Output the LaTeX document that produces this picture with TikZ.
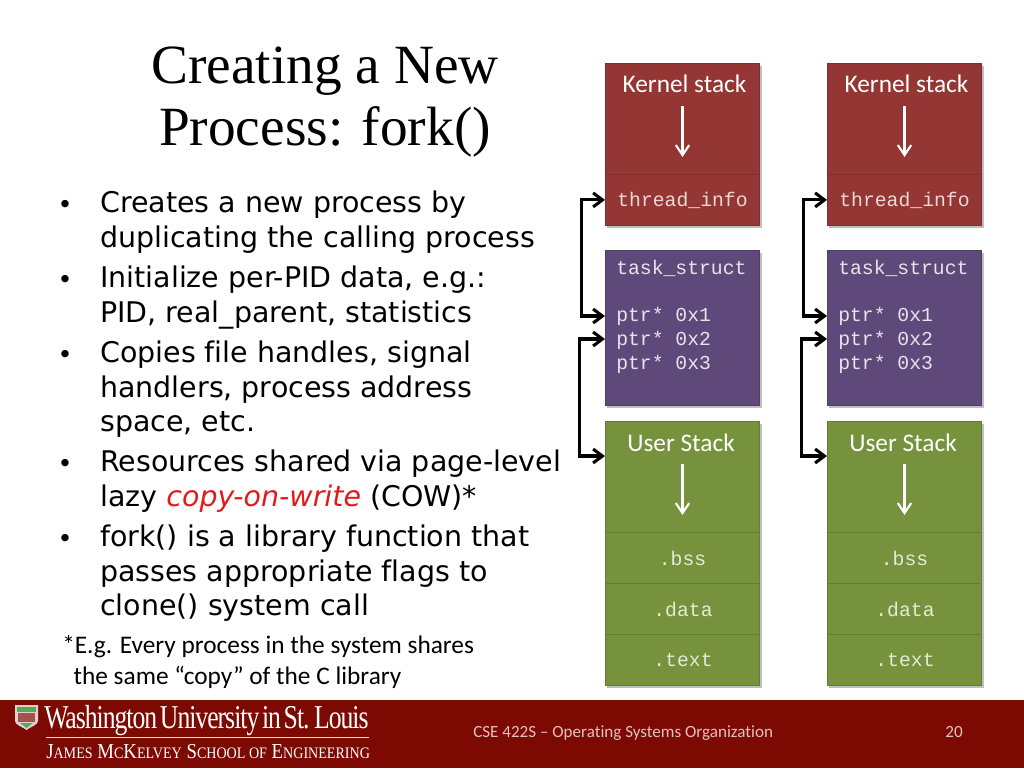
\documentclass[tikz,border=0pt]{standalone}
\usepackage{fontspec}
\usetikzlibrary{arrows.meta,shadows}
\setmainfont{Liberation Serif}
\setsansfont[Ligatures=NoCommon]{DejaVu Sans}
\setmonofont{Liberation Mono}
\newfontfamily\calibri[Ligatures=NoCommon]{Carlito}
\newfontfamily\logofont[FakeStretch=0.77,LetterSpace=-3,WordSpace=0.5]{Liberation Serif}
\newfontfamily\schoolfont[FakeStretch=0.88]{Liberation Serif}
\definecolor{kernelred}{HTML}{943634}
\definecolor{taskpurple}{HTML}{5F497A}
\definecolor{usergreen}{HTML}{76923C}
\definecolor{footerred}{HTML}{7C0A02}
\newcommand{\smc}[1]{{\fontsize{12}{14}\selectfont #1}}
\tikzset{
	memcell/.style={draw=#1!85!black, fill=#1, line width=0.6pt, minimum width=115.8pt, inner sep=0pt,
		drop shadow={shadow xshift=1.5pt, shadow yshift=-2pt, opacity=.5, fill=gray}},
	boxlabel/.style={text=white, font=\calibri\fontsize{19}{21}\selectfont, inner sep=0pt},
	codelabel/.style={text=#1, font=\ttfamily\fontsize{14.8}{18}\selectfont, inner sep=0pt},
	bodytext/.style={anchor=north west, align=left, inner sep=0pt, font=\sffamily\fontsize{21.35}{25.6}\selectfont},
	bulletmark/.style={anchor=base, inner sep=0pt, font=\sffamily\fontsize{19}{18}\selectfont},
	stackarrow/.style={draw=white, line width=1.6pt, arrows={-{Straight Barb[length=7.5pt,width=10pt]}}},
	ptrlink/.style={draw=black, line width=2.3pt, arrows={{Straight Barb[length=7pt,width=10.5pt]}-{Straight Barb[length=7pt,width=10.5pt]}}},
}
\begin{document}
\begin{tikzpicture}[x=0.75pt,y=-0.75pt]
	\useasboundingbox (0,0) rectangle (1024,768);
	% title
	\node[align=center, inner sep=0pt, font=\fontsize{41.5}{46.5}\selectfont] (title) at (325,102) {Creating a New\\Process: fork()};
	% bullets
	\node[bodytext] (b1) at (100,191) {Creates a new process by\\duplicating the calling process};
	\node[bodytext] (b2) at (100,266) {Initialize per-PID data, e.g.:\\PID, real\_parent, statistics};
	\node[bodytext] (b3) at (100,341) {Copies file handles, signal\\handlers, process address\\space, etc.};
	\node[bodytext] (b4) at (100,450) {Resources shared via page-level\\lazy {\color[HTML]{E01B1B}\itshape copy-on-write} (COW)*};
	\node[bodytext] (b5) at (100,525) {fork() is a library function that\\passes appropriate flags to\\clone() system call};
	\foreach \y/\m in {213/m1,288/m2,363/m3,472/m4,547/m5}
		\node[bulletmark] (\m) at (65,\y) {•};
	\node[anchor=north west, align=left, inner sep=0pt, font=\calibri\fontsize{19}{23.2}\selectfont] (note) at (62,635)
		{*E.g. Every process in the system shares\\\hspace*{8.5pt}the same “copy” of the C library};
	% two process columns
	\foreach \x/\n in {605/a,827/b} {
		\node[memcell=kernelred, minimum height=83.25pt, anchor=north west] (\n-kernel) at (\x,63) {};
		\node[memcell=kernelred, minimum height=38.25pt, anchor=north west] (\n-thread) at (\x,174) {};
		\node[memcell=taskpurple, minimum height=116.25pt, anchor=north west] (\n-task) at (\x,250) {};
		\node[memcell=usergreen, minimum height=83.25pt, anchor=north west] (\n-user) at (\x,421) {};
		\node[memcell=usergreen, minimum height=38.25pt, anchor=north west] (\n-bss) at (\x,532) {};
		\node[memcell=usergreen, minimum height=38.25pt, anchor=north west] (\n-data) at (\x,583) {};
		\node[memcell=usergreen, minimum height=38.25pt, anchor=north west] (\n-text) at (\x,634) {};
		\node[boxlabel] (\n-kernellabel) at (\x+79.5,84) {Kernel stack};
		\node[boxlabel] (\n-userlabel) at (\x+76,443) {User Stack};
		\node[codelabel=kernelred!20!white] (\n-threadlabel) at (\x+77.5,200) {thread\_info};
		\node[codelabel=taskpurple!15!white, anchor=west] (\n-tasklabel) at (\x+11,268) {task\_struct};
		\node[codelabel=taskpurple!15!white, anchor=west] (\n-ptr1) at (\x+11,316) {ptr* 0x1};
		\node[codelabel=taskpurple!15!white, anchor=west] (\n-ptr2) at (\x+11,340) {ptr* 0x2};
		\node[codelabel=taskpurple!15!white, anchor=west] (\n-ptr3) at (\x+11,364) {ptr* 0x3};
		\node[codelabel=usergreen!20!white] (\n-bsslabel) at (\x+77.5,558) {.bss};
		\node[codelabel=usergreen!20!white] (\n-datalabel) at (\x+78,609) {.data};
		\node[codelabel=usergreen!20!white] (\n-textlabel) at (\x+78,660) {.text};
		\coordinate (\n-kstop) at (\x+77.5,106);
		\coordinate (\n-ksend) at (\x+77.5,157);
		\coordinate (\n-ustop) at (\x+77.5,464);
		\coordinate (\n-usend) at (\x+77.5,515);
		\draw[stackarrow] (\n-kstop) -- (\n-ksend);
		\draw[stackarrow] (\n-ustop) -- (\n-usend);
		\coordinate (\n-p1) at (\n-task.west |- \n-ptr1);
		\coordinate (\n-p2) at (\x,339);
		\coordinate (\n-tin) at (\n-thread.west);
		\coordinate (\n-uin) at (\x,456);
		\coordinate (\n-bend1) at (\x-23.5,316);
		\coordinate (\n-bend2) at (\x-25.5,339);
		\draw[ptrlink] (\n-p1) -- (\n-bend1) |- (\n-tin);
		\draw[ptrlink] (\n-p2) -- (\n-bend2) |- (\n-uin);
	}
	% footer
	\fill[footerred] (0,699.5) rectangle (1024,768);
	\node[anchor=base west, inner sep=0pt, text=white, font=\logofont\fontsize{25}{26}\selectfont] (wustl) at (44,728) {Washington University in St. Louis};
	\draw[white!85!footerred, line width=0.6pt] (46,737) -- (369,737);
	\node[anchor=base west, inner sep=0pt, text=white, font=\schoolfont\fontsize{16}{17}\selectfont] (school) at (46,758)
		{J\smc{AMES} M\smc{C}K\smc{ELVEY} S\smc{CHOOL OF} E\smc{NGINEERING}};
	% shield
	\fill[white!80!footerred] (15,705) -- (38,705) -- (38,721) .. controls (38,725) and (30,727) .. (26.5,730) .. controls (23,727) and (15,725) .. (15,721) -- cycle;
	\fill[green!35!gray] (17,707) rectangle (36,712);
	\fill[footerred!70!white] (18,713) rectangle (35,722);
	\fill[green!35!gray] (20,723) -- (33,723) -- (26.5,728) -- cycle;
	\node[anchor=base west, inner sep=0pt, text=white!75!footerred, font=\calibri\fontsize{12.8}{14}\selectfont] (course) at (473,737) {CSE 422S – Operating Systems Organization};
	\node[anchor=base, inner sep=0pt, text=white!75!footerred, font=\calibri\fontsize{12.8}{14}\selectfont] (pagenum) at (954,737) {20};
\end{tikzpicture}
\end{document}
